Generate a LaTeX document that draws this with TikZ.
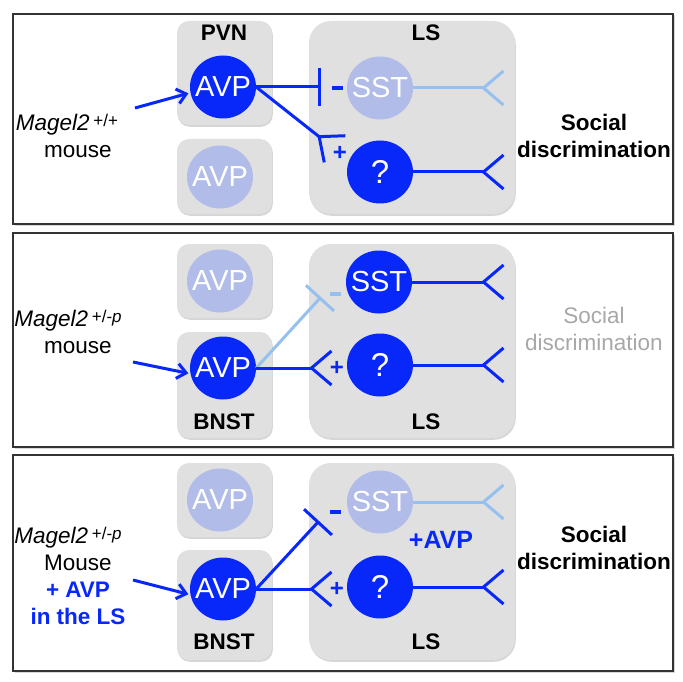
\documentclass[tikz,border=0pt]{standalone}
\usepackage{fontspec}
\setmainfont{Liberation Sans}
\usetikzlibrary{arrows.meta,shapes.geometric,shadows}
\definecolor{AvpBlue}{RGB}{8,40,250}
\definecolor{PaleNeuron}{RGB}{178,188,232}
\definecolor{PaleLine}{RGB}{150,192,238}
\definecolor{BoxGray}{RGB}{224,224,224}
\definecolor{FadedText}{RGB}{168,168,168}

\begin{document}
\begin{tikzpicture}[x=1pt,y=-1pt,
  panel/.style={draw=black!80,line width=1.5pt,fill=white,drop shadow={shadow xshift=1.5pt,shadow yshift=-1.5pt,fill=black!30}},
  region/.style={rectangle,rounded corners=12pt,fill=BoxGray,minimum width=95pt,drop shadow={shadow xshift=0.8pt,shadow yshift=-1.8pt,fill=black!40,opacity=0.4}},
  lsregion/.style={region,rounded corners=22pt,minimum width=206pt},
  lab/.style={font=\bfseries\fontsize{22.5}{27}\selectfont},
  cell/.style={ellipse,minimum width=66pt,minimum height=63pt,inner sep=-8pt,text=white,font=\fontsize{29}{29}\selectfont},
  active/.style={cell,fill=AvpBlue},
  silent/.style={cell,fill=PaleNeuron},
  unknown/.style={active,font=\fontsize{33}{33}\selectfont},
  link/.style={line width=3pt,AvpBlue},
  excite/.style={link,-{Straight Barb[reversed,length=20pt,width=34pt]}},
  inhibit/.style={link,-{Bar[width=38pt]}},
  faint/.style={PaleLine},
  input/.style={link,-{Straight Barb[length=9pt,width=15pt]},shorten >=2pt},
  sign/.style={font=\bfseries\fontsize{24}{24}\selectfont,text=AvpBlue},
  sidetext/.style={align=center,font=\fontsize{22.5}{27}\selectfont},
  outcome/.style={align=center,font=\bfseries\fontsize{22.5}{27}\selectfont},
  fadedoutcome/.style={align=center,text=FadedText,font=\fontsize{22.5}{27}\selectfont}
]
  \useasboundingbox (0,0) rectangle (683,682);

  % panel 1: Magel2 +/+
  \draw[panel] (13,14) rectangle (673,224);
  \node[region,minimum height=104pt] (pvn) at (224.5,73) {};
  \node[region,minimum height=75pt] (pvnlow) at (224.5,176.5) {};
  \node[lsregion,minimum height=193pt] (ls1) at (412,117.5) {};
  \node[lab] (pvnlab) at (224,33) {PVN};
  \node[lab] (ls1lab) at (426,33) {LS};
  \node[active] (avp1) at (223,87) {AVP};
  \node[silent] (avp1b) at (220,177) {AVP};
  \node[silent] (sst1) at (380,88) {SST};
  \node[unknown] (q1) at (380,172) {?};
  \coordinate (i1) at (321,87);
  \coordinate (e1) at (336,150);
  \coordinate (o1a) at (505,88);
  \coordinate (o1b) at (505,172);
  \coordinate (m1) at (135,108);
  \draw[inhibit] (avp1.east) -- (i1);
  \draw[excite] (avp1.east) -- (e1);
  \draw[excite,faint] (sst1) -- (o1a);
  \draw[excite] (q1) -- (o1b);
  \draw[input] (m1) -- (avp1.190);
  \node[sign] (minus1) at (337,88) {\rule{11pt}{3.5pt}};
  \node[sign] (plus1) at (340,153) {+};
  \node[sidetext] (geno1) at (78,136) {\textit{Magel2}\,\raisebox{4pt}{\fontsize{17}{17}\selectfont +/+}\hspace*{22pt}\\mouse};
  \node[outcome] (out1) at (594,136) {Social\\discrimination};

  % panel 2: Magel2 +/-p
  \draw[panel] (13,233) rectangle (673,447);
  \node[region,minimum height=74pt] (upper2) at (224.5,281) {};
  \node[region,minimum height=106pt] (bnst2) at (224.5,385) {};
  \node[lsregion,minimum height=194pt] (ls2) at (412,341) {};
  \node[lab] (bnst2lab) at (224,422) {BNST};
  \node[lab] (ls2lab) at (426,422) {LS};
  \node[silent] (avp2b) at (220,281) {AVP};
  \node[active] (avp2) at (223,368) {AVP};
  \node[active] (sst2) at (379,282) {SST};
  \node[unknown] (q2) at (380,365) {?};
  \coordinate (i2) at (321,297);
  \coordinate (e2) at (333,368);
  \coordinate (o2a) at (505,282);
  \coordinate (o2b) at (505,365);
  \coordinate (m2) at (133,362);
  \draw[inhibit,faint] (avp2.east) -- (i2);
  \draw[excite] (avp2.east) -- (e2);
  \draw[excite] (sst2) -- (o2a);
  \draw[excite] (q2) -- (o2b);
  \draw[input] (m2) -- (avp2.190);
  \node[sign,text=PaleLine] (minus2) at (335,294) {\rule{11pt}{3.5pt}};
  \node[sign] (plus2) at (337,368) {+};
  \node[sidetext] (geno2) at (78,332) {\textit{Magel2}\,\raisebox{4pt}{\fontsize{17}{17}\selectfont +/-\textit{p}}\hspace*{20pt}\\mouse};
  \node[fadedoutcome] (out2) at (594,329) {Social\\discrimination};

  % panel 3: Magel2 +/-p with AVP in the LS
  \draw[panel] (13,455) rectangle (673,671);
  \node[region,minimum height=74pt] (upper3) at (224.5,500) {};
  \node[region,minimum height=110pt] (bnst3) at (224.5,605) {};
  \node[lsregion,minimum height=197pt] (ls3) at (412,561.5) {};
  \node[lab] (bnst3lab) at (224,642) {BNST};
  \node[lab] (ls3lab) at (426,642) {LS};
  \node[silent] (avp3b) at (220,500) {AVP};
  \node[active] (avp3) at (223,589) {AVP};
  \node[silent] (sst3) at (380,502) {SST};
  \node[unknown] (q3) at (380,587) {?};
  \node[sign,font=\bfseries\fontsize{25}{25}\selectfont] (lsavp) at (441,540) {+AVP};
  \coordinate (i3) at (319,521);
  \coordinate (e3) at (333,589);
  \coordinate (o3a) at (505,502);
  \coordinate (o3b) at (505,587);
  \coordinate (m3) at (133,580);
  \draw[inhibit] (avp3.east) -- (i3);
  \draw[excite] (avp3.east) -- (e3);
  \draw[excite,faint] (sst3) -- (o3a);
  \draw[excite] (q3) -- (o3b);
  \draw[input] (m3) -- (avp3.190);
  \node[sign] (minus3) at (335,512) {\rule{11pt}{3.5pt}};
  \node[sign] (plus3) at (337,589) {+};
  \node[sidetext] (geno3) at (78,576) {\textit{Magel2}\,\raisebox{4pt}{\fontsize{17}{17}\selectfont +/-\textit{p}}\hspace*{20pt}\\Mouse\\\textcolor{AvpBlue}{\bfseries + AVP}\\\textcolor{AvpBlue}{\bfseries in the LS}};
  \node[outcome] (out3) at (594,548) {Social\\discrimination};
\end{tikzpicture}
\end{document}
